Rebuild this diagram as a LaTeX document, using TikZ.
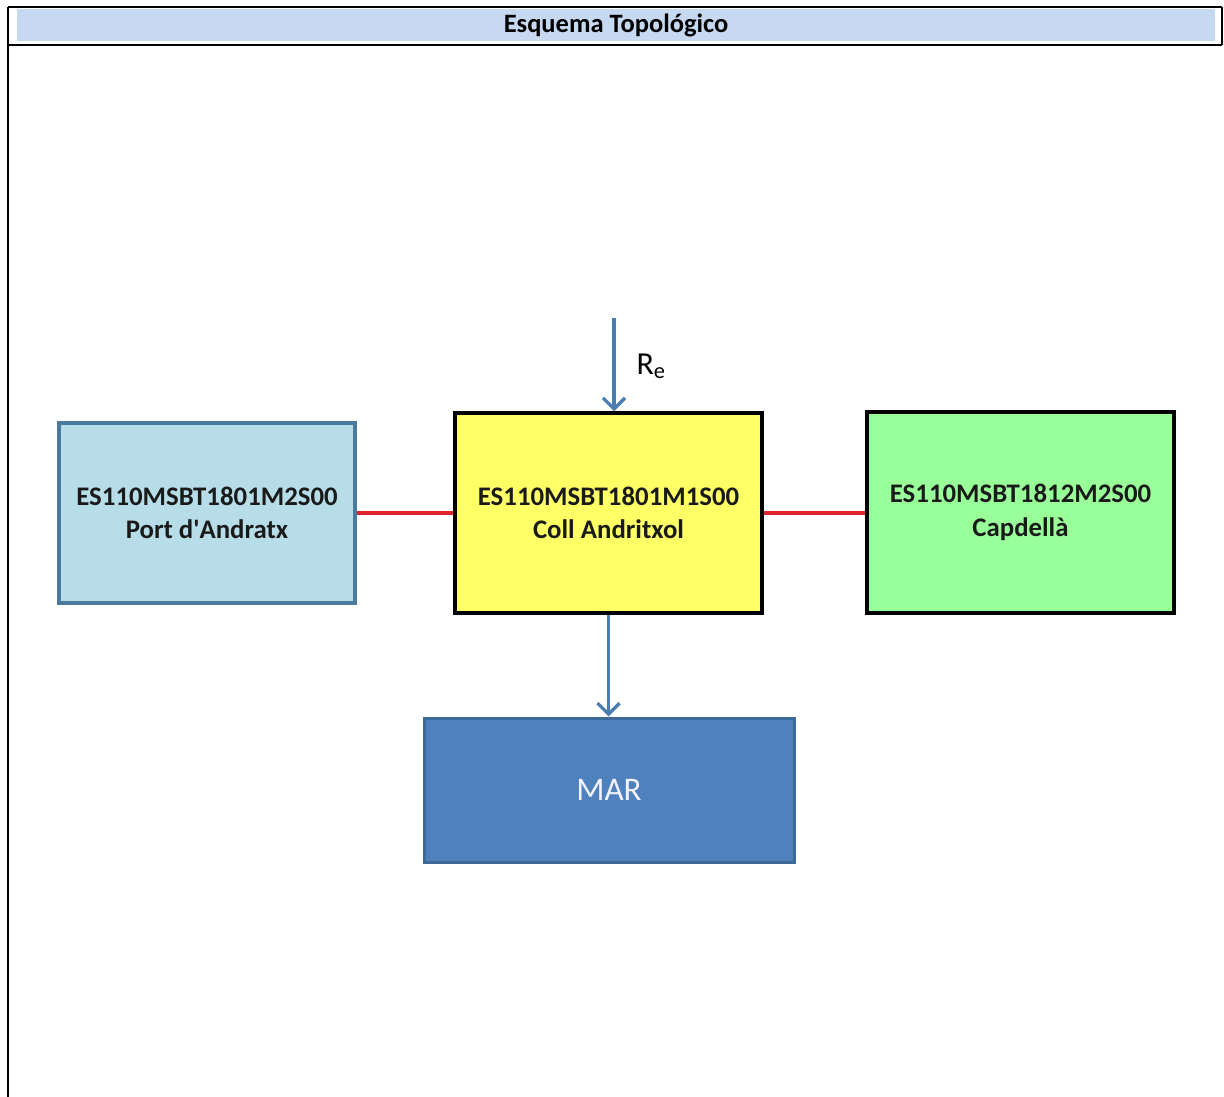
\documentclass[tikz,border=0pt]{standalone}
\usepackage{fontspec}
\setmainfont{Carlito}
\usetikzlibrary{arrows.meta}

\definecolor{headfill}{HTML}{C6D9F1}
\definecolor{portfill}{HTML}{B7DEE8}
\definecolor{portline}{HTML}{4A7A9E}
\definecolor{collfill}{HTML}{FFFF66}
\definecolor{capfill}{HTML}{99FF99}
\definecolor{marfill}{HTML}{4F81BD}
\definecolor{marline}{HTML}{3E6A9A}
\definecolor{flowblue}{HTML}{4A7EB0}
\definecolor{linkred}{HTML}{E0262A}
\definecolor{textdark}{HTML}{1A1A1A}

\tikzset{
  unit/.style={draw, line width=3.5pt, inner sep=0pt, align=center,
    font=\fontsize{26.8}{33.5}\selectfont\bfseries, text=textdark},
  flow/.style={draw=flowblue, line width=3.2pt,
    -{Straight Barb[length=11pt,width=22pt,line width=3.2pt]}},
  link/.style={draw=linkred, line width=3.2pt},
  frame/.style={draw=black}
}

\begin{document}
\begin{tikzpicture}[x=1pt,y=-1pt]
  \useasboundingbox (0,0) rectangle (1224,1097);
  \fill[white] (0,0) rectangle (1224,1097);

  % table header
  \fill[headfill] (17,9) rectangle (1215,41);
  \draw[frame, line width=2pt] (8,7) -- (1222,7);
  \draw[frame, line width=2.5pt] (8,45) -- (1222,45);
  \draw[frame, line width=1.5pt] (8,7) -- (8,1097);
  \draw[frame, line width=1.5pt] (1222,7) -- (1222,45);
  \node[font=\fontsize{26.5}{30}\selectfont\bfseries] (title) at (616,25) {Esquema Topológico};

  % water bodies
  \node[unit, draw=portline, fill=portfill, minimum width=296pt, minimum height=180pt]
    (port) at (207,513) {ES110MSBT1801M2S00\\Port d\textquotesingle Andratx};
  \node[unit, draw=black, fill=collfill, minimum width=307pt, minimum height=200pt]
    (coll) at (608.5,513) {ES110MSBT1801M1S00\\Coll Andritxol};
  \node[unit, draw=black, fill=capfill, minimum width=307pt, minimum height=201pt]
    (cap) at (1020.5,512.5) {ES110MSBT1812M2S00\\Capdellà};
  \node[draw=marline, fill=marfill, line width=3pt, inner sep=0pt,
    minimum width=370pt, minimum height=144pt, text=white!95!blue,
    font=\fontsize{33}{40}\selectfont] (mar) at (609,790) {MAR};

  % lateral connections
  \draw[link] (port.east) -- (coll.west);
  \draw[link] (coll.east) -- (coll.east -| cap.west);

  % recharge and discharge
  \coordinate (rtop) at (614,318);
  \draw[flow] (rtop) -- (rtop |- coll.north);
  \node[font=\fontsize{32}{36}\selectfont, anchor=west] (re) at (633,366) {R\textsubscript{e}};
  \draw[flow] (coll.south) -- (coll.south |- mar.north);
\end{tikzpicture}
\end{document}
